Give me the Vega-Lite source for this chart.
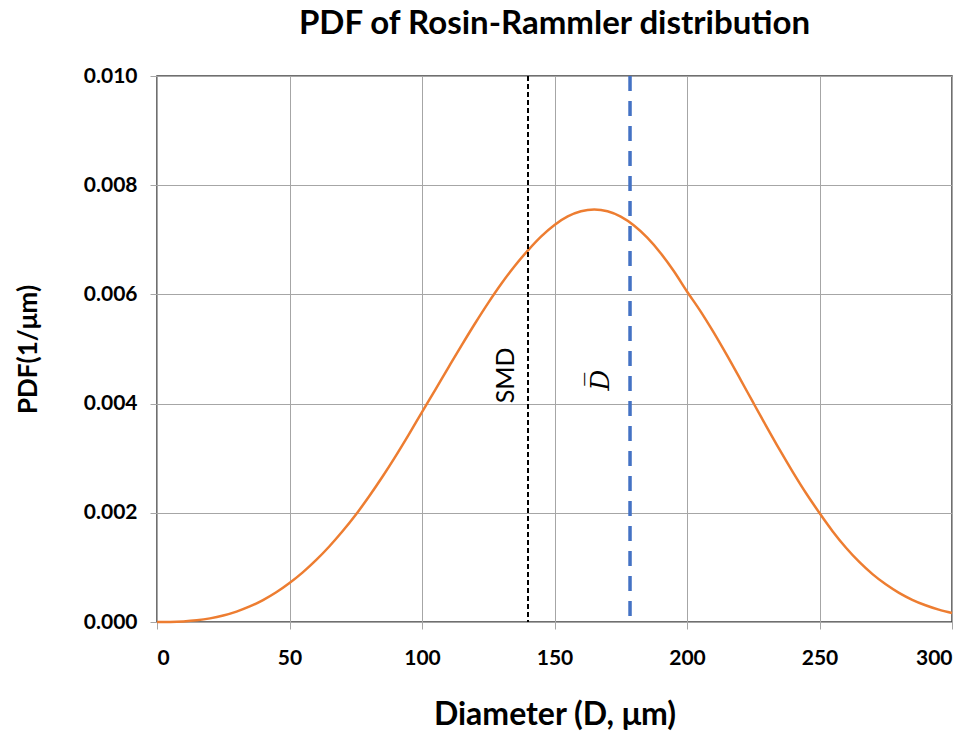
{
  "$schema": "https://vega.github.io/schema/vega-lite/v6.json",
  "width": 795,
  "height": 546,
  "autosize": {"type": "none"},
  "padding": {"left": 157, "top": 76, "right": 23, "bottom": 116},
  "background": "white",
  "title": {
    "text": "PDF of Rosin-Rammler distribution",
    "font": "Lato",
    "fontSize": 33,
    "fontWeight": "bold",
    "color": "#000000",
    "anchor": "middle",
    "offset": 24
  },
  "config": {
    "view": {"stroke": "#404040", "strokeWidth": 1.5},
    "axis": {
      "grid": true,
      "gridColor": "#a6a6a6",
      "gridWidth": 1,
      "domainColor": "#a6a6a6",
      "tickColor": "#a6a6a6",
      "tickSize": 7,
      "labelFont": "Lato",
      "labelFontSize": 21,
      "labelFontWeight": "bold",
      "labelColor": "#000000",
      "titleFont": "Lato",
      "titleFontWeight": "bold",
      "titleColor": "#000000"
    }
  },
  "layer": [
    {
      "data": {"values": [
        {"D": 0, "pdf": 0},
        {"D": 5, "pdf": 0.0000018},
        {"D": 10, "pdf": 0.0000110},
        {"D": 15, "pdf": 0.0000315},
        {"D": 20, "pdf": 0.0000666},
        {"D": 25, "pdf": 0.0001188},
        {"D": 30, "pdf": 0.0001908},
        {"D": 35, "pdf": 0.0002846},
        {"D": 40, "pdf": 0.0004019},
        {"D": 45, "pdf": 0.0005447},
        {"D": 50, "pdf": 0.000714},
        {"D": 55, "pdf": 0.000909},
        {"D": 60, "pdf": 0.001132},
        {"D": 65, "pdf": 0.001383},
        {"D": 70, "pdf": 0.001661},
        {"D": 75, "pdf": 0.001964},
        {"D": 80, "pdf": 0.002298},
        {"D": 85, "pdf": 0.002655},
        {"D": 90, "pdf": 0.003034},
        {"D": 95, "pdf": 0.003432},
        {"D": 100, "pdf": 0.003844},
        {"D": 105, "pdf": 0.004253},
        {"D": 110, "pdf": 0.004664},
        {"D": 115, "pdf": 0.005071},
        {"D": 120, "pdf": 0.005467},
        {"D": 125, "pdf": 0.005845},
        {"D": 130, "pdf": 0.006199},
        {"D": 135, "pdf": 0.006521},
        {"D": 140, "pdf": 0.006807},
        {"D": 145, "pdf": 0.007063},
        {"D": 150, "pdf": 0.007272},
        {"D": 155, "pdf": 0.007427},
        {"D": 160, "pdf": 0.007522},
        {"D": 165, "pdf": 0.007553},
        {"D": 170, "pdf": 0.007522},
        {"D": 175, "pdf": 0.007423},
        {"D": 180, "pdf": 0.007261},
        {"D": 185, "pdf": 0.007038},
        {"D": 190, "pdf": 0.006759},
        {"D": 195, "pdf": 0.006428},
        {"D": 200, "pdf": 0.006054},
        {"D": 205, "pdf": 0.005698},
        {"D": 210, "pdf": 0.005308},
        {"D": 215, "pdf": 0.004891},
        {"D": 220, "pdf": 0.004457},
        {"D": 225, "pdf": 0.004016},
        {"D": 230, "pdf": 0.003579},
        {"D": 235, "pdf": 0.003151},
        {"D": 240, "pdf": 0.002741},
        {"D": 245, "pdf": 0.002353},
        {"D": 250, "pdf": 0.001996},
        {"D": 255, "pdf": 0.001659},
        {"D": 260, "pdf": 0.001360},
        {"D": 265, "pdf": 0.001100},
        {"D": 270, "pdf": 0.000877},
        {"D": 275, "pdf": 0.000690},
        {"D": 280, "pdf": 0.000534},
        {"D": 285, "pdf": 0.000407},
        {"D": 290, "pdf": 0.000306},
        {"D": 295, "pdf": 0.000226},
        {"D": 300, "pdf": 0.000164}
      ]},
      "mark": {"type": "line", "color": "#ed7d31", "strokeWidth": 2.5, "interpolate": "monotone"},
      "encoding": {
        "x": {
          "field": "D", "type": "quantitative",
          "scale": {"domain": [0, 300], "nice": false},
          "axis": {"values": [0, 50, 100, 150, 200, 250, 300], "labelPadding": 18, "title": "Diameter (D, μm)", "titleFontSize": 32, "titlePadding": 31}
        },
        "y": {
          "field": "pdf", "type": "quantitative",
          "scale": {"domain": [0, 0.01], "nice": false},
          "axis": {"values": [0, 0.002, 0.004, 0.006, 0.008, 0.01], "format": ".3f", "labelPadding": 13, "title": "PDF(1/μm)", "titleFontSize": 26, "titlePadding": 42}
        }
      }
    },
    {
      "data": {"values": [{"D": 140, "line": "SMD"}]},
      "mark": {"type": "rule", "color": "#000000", "strokeWidth": 2, "strokeDash": [5, 3]},
      "encoding": {"x": {"field": "D", "type": "quantitative"}}
    },
    {
      "data": {"values": [{"D": 178.5, "line": "Dbar"}]},
      "mark": {"type": "rule", "color": "#4472c4", "strokeWidth": 3.5, "strokeDash": [15, 10]},
      "encoding": {"x": {"field": "D", "type": "quantitative"}}
    },
    {
      "data": {"values": [{"D": 131.7, "pdf": 0.004515, "label": "SMD"}]},
      "mark": {"type": "text", "angle": 270, "font": "Lato", "fontSize": 25, "color": "#000000", "align": "center", "baseline": "middle"},
      "encoding": {
        "x": {"field": "D", "type": "quantitative"},
        "y": {"field": "pdf", "type": "quantitative"},
        "text": {"field": "label"}
      }
    },
    {
      "data": {"values": [{"D": 167.5, "pdf": 0.00443, "label": "D̅"}]},
      "mark": {"type": "text", "angle": 270, "font": "DejaVu Serif", "fontStyle": "italic", "fontSize": 26, "color": "#000000", "align": "center", "baseline": "middle"},
      "encoding": {
        "x": {"field": "D", "type": "quantitative"},
        "y": {"field": "pdf", "type": "quantitative"},
        "text": {"field": "label"}
      }
    }
  ]
}
